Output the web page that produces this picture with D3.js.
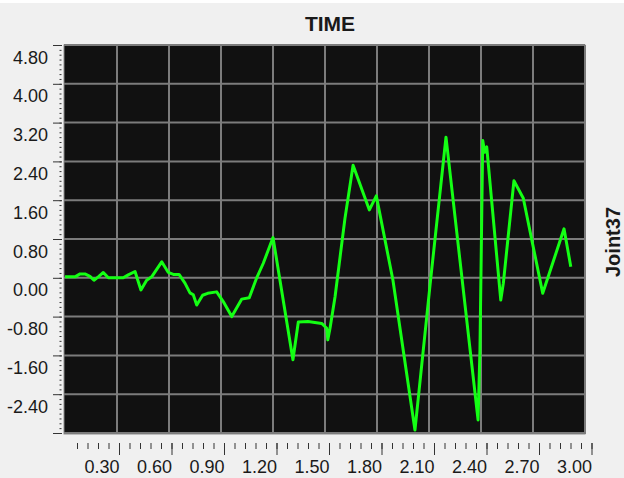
<!DOCTYPE html>
<html>
<head>
<meta charset="utf-8">
<script src="https://cdn.jsdelivr.net/npm/d3@7"></script>
<style>
  html, body { margin: 0; padding: 0; background: #f0f0f0; }
  svg { display: block; }
  .tickText { font-family: "Liberation Sans", Arial, sans-serif; font-size: 18px; fill: #1a1a1a; }
</style>
</head>
<body>
<div id="chart"></div>
<script>
// time history
var times = [0.000, 0.058, 0.087, 0.115, 0.144, 0.167, 0.192, 0.221, 0.250, 0.336,
  0.365, 0.404, 0.438, 0.471, 0.500, 0.558, 0.596, 0.625, 0.658, 0.692,
  0.721, 0.740, 0.760, 0.794, 0.823, 0.875, 0.913, 0.962, 1.019, 1.063,
  1.106, 1.144, 1.200, 1.315, 1.346, 1.402, 1.481, 1.510, 1.516, 1.529,
  1.558, 1.587, 1.615, 1.662, 1.756, 1.796, 1.892, 2.019, 2.106, 2.198,
  2.383, 2.394, 2.410, 2.421, 2.433, 2.514, 2.529, 2.590, 2.644, 2.756,
  2.879, 2.918];
var values = [0.02, 0.02, 0.08, 0.08, 0.03, -0.05, 0.02, 0.11, 0.00, 0.00,
  0.06, 0.13, -0.25, -0.05, 0.02, 0.33, 0.11, 0.07, 0.07, -0.11,
  -0.31, -0.35, -0.56, -0.36, -0.32, -0.29, -0.49, -0.80, -0.44, -0.41,
  0.00, 0.30, 0.83, -1.69, -0.91, -0.90, -0.94, -1.04, -1.28, -1.04,
  -0.39, 0.43, 1.22, 2.32, 1.40, 1.69, -0.05, -3.14, -0.15, 2.90,
  -2.93, -1.49, 2.83, 2.59, 2.70, -0.46, -0.11, 2.00, 1.64, -0.32,
  1.01, 0.23];

var yTickValues = [4.8, 4.0, 3.2, 2.4, 1.6, 0.8, 0.0, -0.8, -1.6, -2.4, -3.2];
var yTickLabels = ["4.80", "4.00", "3.20", "2.40", "1.60", "0.80", "0.00", "-0.80", "-1.60", "-2.40", ""];
var xTickValues = [0.3, 0.6, 0.9, 1.2, 1.5, 1.8, 2.1, 2.4, 2.7, 3.0];
var xTickLabels = ["0.30", "0.60", "0.90", "1.20", "1.50", "1.80", "2.10", "2.40", "2.70", "3.00"];

var svgWidth = 624;
var svgHeight = 478;

var plot = { left: 64, right: 585, top: 45, bottom: 434 };

var svg = d3.select('#chart')
  .append('svg')
  .attr('width', svgWidth)
  .attr('height', svgHeight);

svg.append('rect')
  .attr('width', svgWidth)
  .attr('height', svgHeight)
  .attr('fill', '#f0f0f0');
svg.append('rect')
  .attr('width', svgWidth)
  .attr('height', 3)
  .attr('fill', '#ffffff');

var xScale = d3.scaleLinear().domain([0, 3]).range([65, 585]);
var yScale = d3.scaleLinear().domain([-3.2, 4.8]).range([433, 45]);
// the tick row under the plot runs a little wider than the grid
var xTickScale = d3.scaleLinear().domain([0, 3]).range([66.5, 591.5]);

// plot area
svg.append('rect')
  .attr('x', plot.left)
  .attr('y', plot.top)
  .attr('width', plot.right - plot.left)
  .attr('height', plot.bottom - plot.top)
  .attr('fill', '#111111')
  .attr('stroke', '#8a8a8a')
  .attr('stroke-width', 1);

// grid
var grid = svg.append('g');
grid.selectAll('.hgrid')
  .data(yTickValues)
  .enter()
  .append('line')
  .attr('x1', plot.left)
  .attr('x2', plot.right)
  .attr('y1', d => yScale(d))
  .attr('y2', d => yScale(d))
  .attr('stroke', '#7c7c7c')
  .attr('stroke-width', 2);
grid.selectAll('.vgrid')
  .data(xTickValues)
  .enter()
  .append('line')
  .attr('x1', d => xScale(d))
  .attr('x2', d => xScale(d))
  .attr('y1', plot.top)
  .attr('y2', plot.bottom)
  .attr('stroke', '#7c7c7c')
  .attr('stroke-width', 2);

// y axis: minor dots + major ticks
var yMinor = d3.axisLeft(yScale)
  .tickValues(d3.range(0, 81).map(i => -3.2 + i * 0.1))
  .tickSize(2)
  .tickFormat('');
svg.append('g')
  .attr('transform', 'translate(61.5,0)')
  .call(yMinor)
  .call(g => g.select('.domain').remove())
  .call(g => g.selectAll('line').attr('stroke', '#333'));

var yMajor = d3.axisLeft(yScale)
  .tickValues(yTickValues)
  .tickSize(9)
  .tickPadding(5)
  .tickFormat((d, i) => yTickLabels[i]);
svg.append('g')
  .attr('transform', 'translate(62,0)')
  .call(yMajor)
  .call(g => g.select('.domain').remove())
  .call(g => g.selectAll('line').attr('stroke', '#333'))
  .call(g => g.selectAll('text')
    .attr('class', 'tickText')
    .attr('font-size', null)
    .attr('font-family', null)
    .attr('dy', null)
    .attr('y', 18));

// x axis: minor + major ticks
var xMinor = d3.axisBottom(xTickScale)
  .tickValues(d3.range(1, 51).map(i => i * 0.06))
  .tickSize(6)
  .tickFormat('');
svg.append('g')
  .attr('transform', 'translate(0,443)')
  .call(xMinor)
  .call(g => g.select('.domain').remove())
  .call(g => g.selectAll('line').attr('stroke', '#333'));

var xMajor = d3.axisBottom(xTickScale)
  .tickValues(xTickValues)
  .tickSize(12)
  .tickFormat((d, i) => xTickLabels[i]);
svg.append('g')
  .attr('transform', 'translate(0,443)')
  .call(xMajor)
  .call(g => g.select('.domain').remove())
  .call(g => g.selectAll('line').attr('stroke', '#333'))
  .call(g => g.selectAll('text')
    .attr('class', 'tickText')
    .attr('font-size', null)
    .attr('font-family', null)
    .attr('text-anchor', 'end')
    .attr('dy', null)
    .attr('y', 30));

// title and series name
svg.append('text')
  .attr('x', 330)
  .attr('y', 31)
  .attr('text-anchor', 'middle')
  .attr('font-family', 'Liberation Sans, Arial, sans-serif')
  .attr('font-weight', 'bold')
  .attr('font-size', 21)
  .attr('fill', '#1a1a1a')
  .text('TIME');

svg.append('text')
  .attr('transform', 'translate(620,242)rotate(-90)')
  .attr('text-anchor', 'middle')
  .attr('font-family', 'Liberation Sans, Arial, sans-serif')
  .attr('font-weight', 'bold')
  .attr('font-size', 20)
  .attr('fill', '#1a1a1a')
  .text('Joint37');

// the curve
var pts = times.map((t, i) => [t, values[i]]);
var line = d3.line()
  .x(d => xScale(d[0]))
  .y(d => yScale(d[1]));

svg.append('path')
  .datum(pts)
  .attr('d', line)
  .attr('fill', 'none')
  .attr('stroke', '#14ff14')
  .attr('stroke-width', 3)
  .attr('stroke-linejoin', 'round');
</script>
</body>
</html>
